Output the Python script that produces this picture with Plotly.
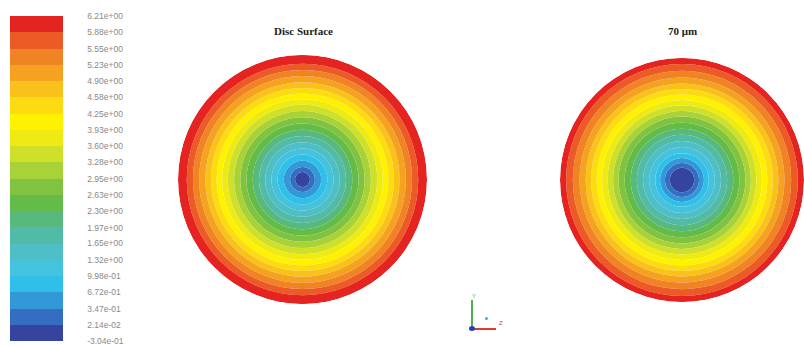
import plotly.graph_objects as go

W, H = 804, 347

# Contour levels shown on the legend bar (bottom to top)
levels = [-0.304, 0.0214, 0.347, 0.672, 0.998, 1.32, 1.65, 1.97, 2.30, 2.63,
          2.95, 3.28, 3.60, 3.93, 4.25, 4.58, 4.90, 5.23, 5.55, 5.88, 6.21]
level_labels = ["-3.04e-01", "2.14e-02", "3.47e-01", "6.72e-01", "9.98e-01",
                "1.32e+00", "1.65e+00", "1.97e+00", "2.30e+00", "2.63e+00",
                "2.95e+00", "3.28e+00", "3.60e+00", "3.93e+00", "4.25e+00",
                "4.58e+00", "4.90e+00", "5.23e+00", "5.55e+00", "5.88e+00",
                "6.21e+00"]

# One colour per band (bottom to top)
band_colors = ["#34449f", "#356dc0", "#3398d8", "#2fbfeb", "#45c3de",
               "#4ebfc6", "#52bba8", "#58b97e", "#63bb48", "#80c341",
               "#a9d238", "#cfe02a", "#eeea12", "#fff200", "#fcdc10",
               "#f8c21a", "#f4a220", "#f08425", "#ec5a25", "#e52421"]

# Outer radius (fraction of disc radius) of each band
surface_radii = [0.06, 0.10, 0.15, 0.20, 0.25, 0.30, 0.35, 0.40, 0.45, 0.50,
                 0.55, 0.60, 0.645, 0.69, 0.735, 0.78, 0.83, 0.88, 0.93, 1.00]
depth70_radii = [0.10, 0.14, 0.18, 0.22, 0.27, 0.32, 0.37, 0.42, 0.47, 0.52,
                 0.565, 0.61, 0.655, 0.70, 0.745, 0.79, 0.84, 0.895, 0.95, 1.00]

panel_titles = ["<b>Disc Surface</b>", "<b>70 μm</b>"]

n = len(band_colors)
colorscale = []
for i, c in enumerate(band_colors):
    colorscale.append([i / n, c])
    colorscale.append([(i + 1) / n, c])

band_mid = [(levels[i] + levels[i + 1]) / 2 for i in range(n)]


def px(x):
    return x / W


def py(y):
    return 1 - y / H


def rings(radii, subplot, show_bar):
    base = [0.0] + radii[:-1]
    width = [radii[i] - base[i] for i in range(len(radii))]
    return go.Barpolar(
        r=width, base=base, theta=[0] * len(radii), width=[360] * len(radii),
        subplot=subplot, hoverinfo="skip",
        marker=dict(color=band_mid, colorscale=colorscale,
                    cmin=levels[0], cmax=levels[-1],
                    line=dict(width=0),
                    showscale=show_bar,
                    colorbar=dict(
                        x=px(10), xanchor="left", y=py(178.5), yanchor="middle",
                        len=325, lenmode="pixels", thickness=53,
                        thicknessmode="pixels", xpad=0, ypad=0,
                        outlinewidth=0, tickvals=levels, ticktext=level_labels,
                        ticks="outside", ticklen=23,
                        tickcolor="rgba(0,0,0,0)",
                        tickfont=dict(size=8.5, color="#8a8a8a",
                                      family="Liberation Sans"))),
        showlegend=False)


fig = go.Figure()
fig.add_trace(rings(surface_radii, "polar", True))
fig.add_trace(rings(depth70_radii, "polar2", False))

polar_common = dict(
    bgcolor="white", barmode="overlay", hole=0,
    radialaxis=dict(visible=False, range=[0, 1]),
    angularaxis=dict(visible=False),
)

fig.update_layout(
    width=W, height=H,
    margin=dict(l=0, r=0, t=0, b=0),
    paper_bgcolor="white", plot_bgcolor="white",
    polar=dict(domain=dict(x=[px(178), px(427)], y=[py(304), py(55)]),
               **polar_common),
    polar2=dict(domain=dict(x=[px(560), px(804)], y=[py(302), py(58)]),
                **polar_common),
)

for title, cx in zip(panel_titles, [303, 682]):
    fig.add_annotation(x=px(cx), y=py(31), xref="paper", yref="paper",
                       xanchor="center", yanchor="middle",
                       text=title, showarrow=False,
                       font=dict(family="Liberation Serif", size=11,
                                 color="#222222"))

# Small coordinate triad
fig.add_shape(type="line", xref="paper", yref="paper",
              x0=px(472), y0=py(329), x1=px(472), y1=py(300),
              line=dict(color="#4caf50", width=2))
fig.add_shape(type="line", xref="paper", yref="paper",
              x0=px(472), y0=py(329), x1=px(496), y1=py(329),
              line=dict(color="#e53935", width=2))
fig.add_shape(type="circle", xref="paper", yref="paper",
              x0=px(469), y0=py(331), x1=px(475), y1=py(326),
              fillcolor="#2b3fa8", line=dict(width=0))
fig.add_shape(type="circle", xref="paper", yref="paper",
              x0=px(485), y0=py(320), x1=px(488), y1=py(317),
              fillcolor="#33b5e5", line=dict(width=0))
for txt, x, y, col in [("Y", 474, 296, "#4caf50"), ("Z", 501, 323, "#e53935")]:
    fig.add_annotation(x=px(x), y=py(y), xref="paper", yref="paper",
                       xanchor="center", yanchor="middle",
                       text=txt, showarrow=False,
                       font=dict(size=6, color=col, family="Liberation Sans"))

fig.write_html("out.html")
